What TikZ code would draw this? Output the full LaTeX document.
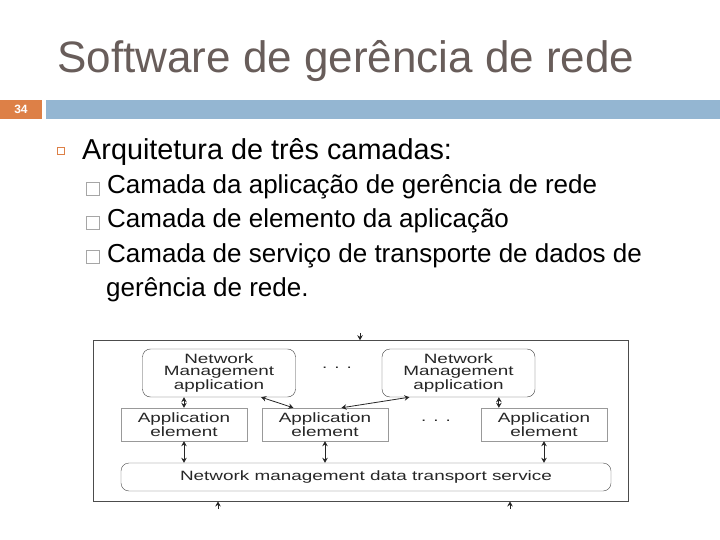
\documentclass[tikz,border=0pt]{standalone}
\usepackage{fontspec}
\setmainfont{Liberation Sans}
\newfontfamily\figfont[FakeStretch=1.4]{Liberation Sans}
\usetikzlibrary{arrows.meta,calc}
\definecolor{titlegray}{RGB}{104,93,90}
\definecolor{barblue}{RGB}{148,182,210}
\definecolor{barorange}{RGB}{221,128,71}
\begin{document}
\begin{tikzpicture}[x=1pt, y=-1pt,
  fig/.style={font=\figfont\fontsize{13.5}{12}\selectfont, align=center, text=black!85},
  nmapp/.style={fig, draw=black!75, rounded corners=8pt, minimum width=153pt, minimum height=48pt, inner sep=0pt},
  appel/.style={fig, draw=black!40, minimum width=126pt, minimum height=33pt, inner sep=0pt},
  subbox/.style={draw=black!35, minimum size=13pt, inner sep=0pt},
  subtext/.style={anchor=base west, inner sep=0pt, font=\fontsize{26}{26}\selectfont},
  dbl/.style={{Stealth[length=5pt,width=5.5pt]}-{Stealth[length=5pt,width=5.5pt]}, black!85, line width=0.8pt},
  tip/.style={-{Stealth[length=5pt,width=5.5pt]}, black!85, line width=0.8pt}]
  \useasboundingbox (0,0) rectangle (720,540);
  % header
  \node[anchor=base west, text=titlegray, font=\fontsize{44}{44}\selectfont, inner sep=0pt] (title) at (57,73) {Software de gerência de rede};
  \fill[barorange] (0,100) rectangle (42,119);
  \fill[barblue] (46,100) rectangle (720,119);
  \node[text=white, font=\bfseries\fontsize{12}{12}\selectfont, inner sep=0pt] (num) at (21,109.5) {34};
  % bullets
  \node[draw=barorange, line width=1pt, minimum size=7pt, inner sep=0pt] (mainbox) at (60.5,151.5) {};
  \node[anchor=base west, inner sep=0pt, font=\fontsize{28.8}{28.8}\selectfont] (main) at (82,160) {Arquitetura de três camadas:};
  \foreach \yy/\txt [count=\i] in {194/{Camada da aplicação de gerência de rede},
      228/{Camada de elemento da aplicação}, 262/{Camada de serviço de transporte de dados de}} {
    \node[subbox] (box\i) at (93,\yy-5.5) {};
    \node[subtext] (sub\i) at (107,\yy) {\txt};
  }
  \node[subtext] (sub4) at (106,296) {gerência de rede.};
  % figure
  \node[draw=black!70, line width=0.9pt, minimum width=534.5pt, minimum height=160.3pt, inner sep=0pt] (frame) at (360.75,420.85) {};
  \node[nmapp] (nm1) at (219,373) {Network\\Management\\application};
  \node[nmapp] (nm2) at (458.5,373) {Network\\Management\\application};
  \node[fig] (dots1) at (337,368) {. . .};
  \node[appel] (ae1) at (184,424.5) {Application\\element};
  \node[appel] (ae2) at (325,424.5) {Application\\element};
  \node[appel] (ae3) at (544,424.5) {Application\\element};
  \node[fig] (dots2) at (436,421) {. . .};
  \node[fig, draw=black!70, rounded corners=8pt, minimum width=490pt, minimum height=28pt, inner sep=0pt] (dt) at (366,477) {Network management data transport service};
  \draw[dbl] (ae1.north) -- (ae1.north |- nm1.south);
  \draw[dbl] ($(nm1.south)!0.55!(nm1.south east)$) -- ($(ae2.north west)!0.25!(ae2.north east)$);
  \draw[dbl] ($(nm2.south west)!0.18!(nm2.south east)$) -- ($(ae2.north west)!0.63!(ae2.north east)$);
  \draw[dbl] ($(ae3.north west)!0.143!(ae3.north east)$) coordinate (ae3up) -- (ae3up |- nm2.south);
  \foreach \n in {ae1,ae2,ae3}
    \draw[dbl] (\n.south) -- (\n.south |- dt.north);
  \coordinate (topin) at (360,333);
  \coordinate (botin1) at (218,509);
  \coordinate (botin2) at (510,509);
  \draw[tip] (topin) -- (topin |- frame.north);
  \draw[tip] (botin1) -- (botin1 |- frame.south);
  \draw[tip] (botin2) -- (botin2 |- frame.south);
\end{tikzpicture}
\end{document}
